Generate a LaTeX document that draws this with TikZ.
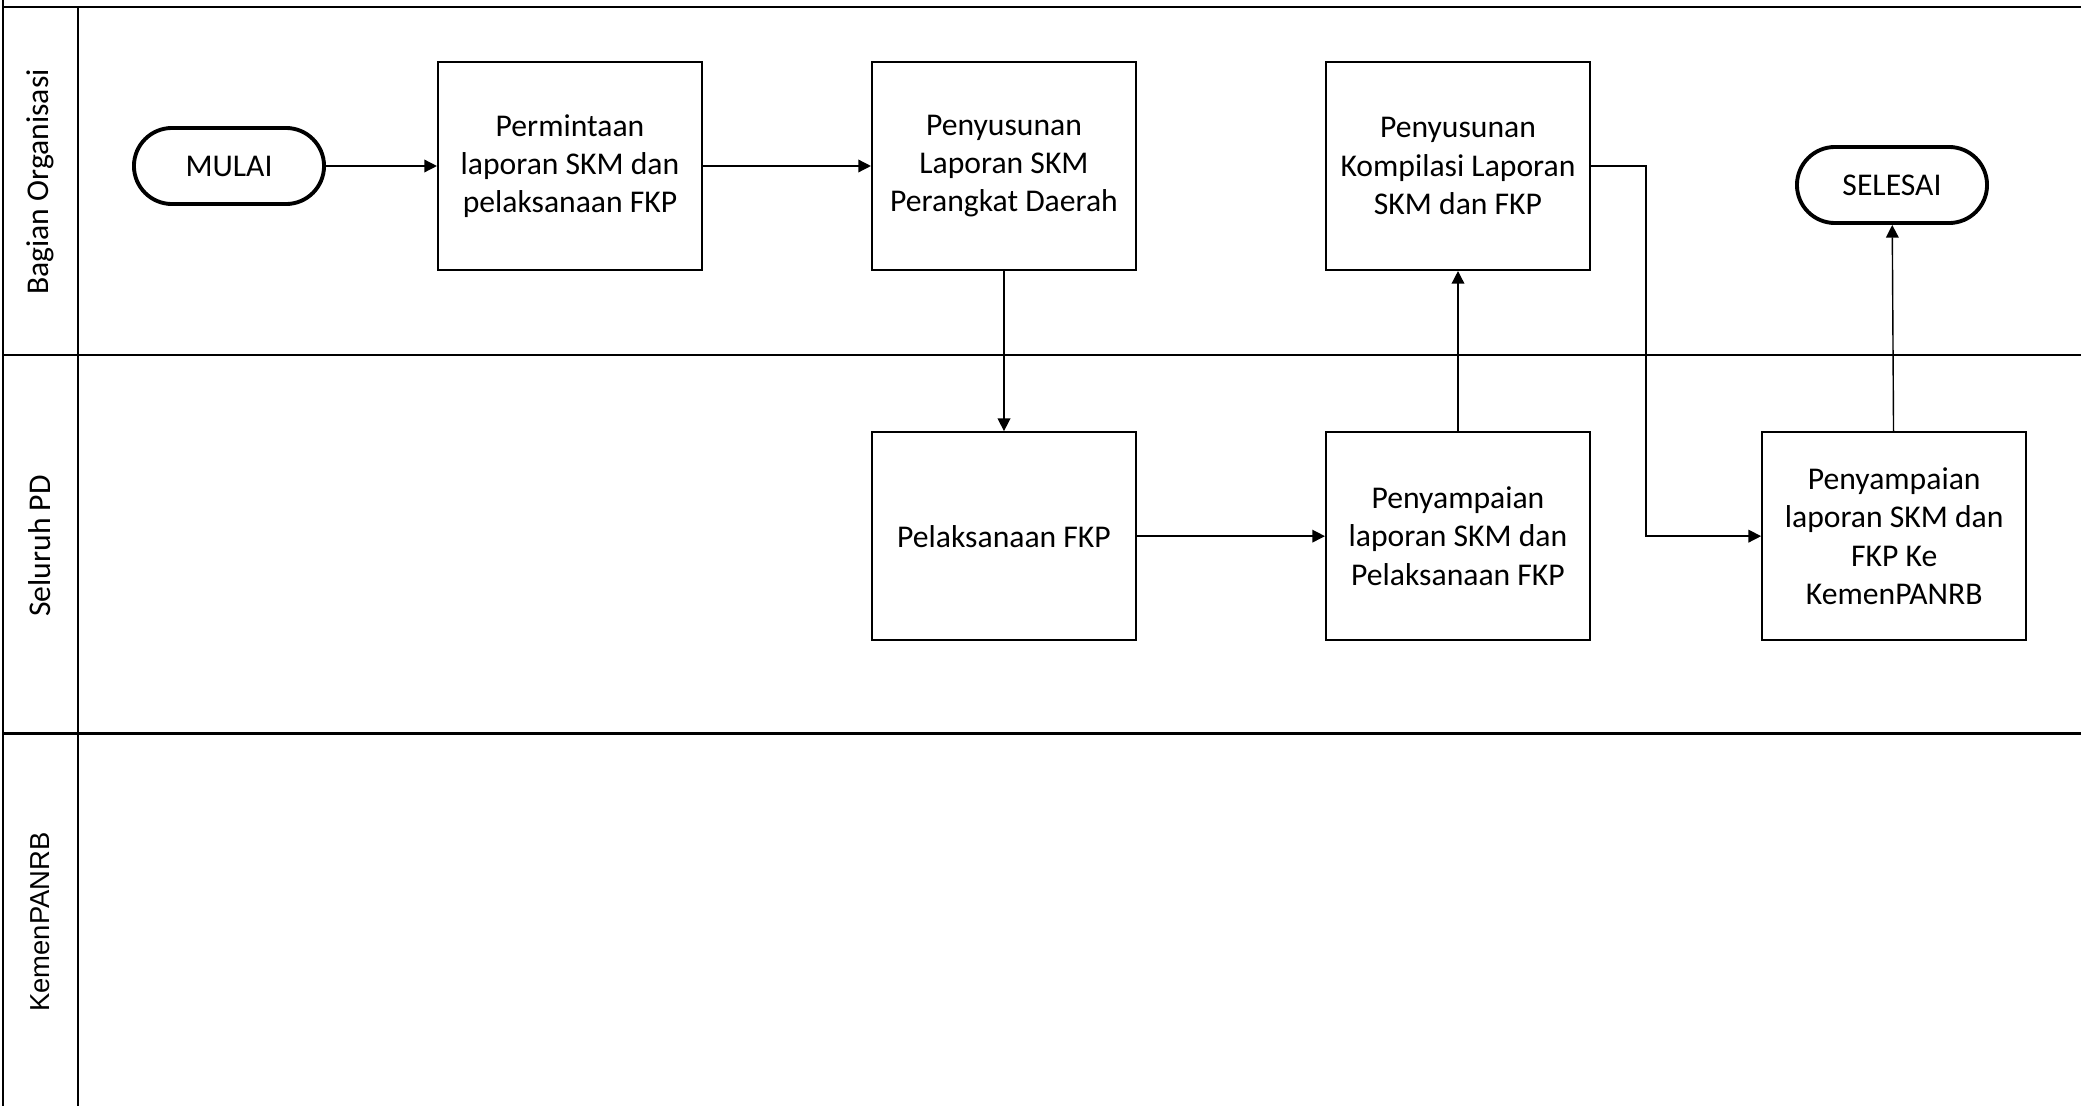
\documentclass[tikz,border=0pt]{standalone}
\usepackage{fontspec}
\setmainfont{Carlito}
\newfontfamily\arialfont{Liberation Sans}
\usetikzlibrary{positioning,arrows.meta}

\begin{document}
\begin{tikzpicture}[
  x=0.01cm, y=-0.01cm,
  >={Triangle[length=3.6pt,width=3.6pt]},
  every node/.style={font=\fontsize{9}{10.9}\selectfont, text=black},
  lane/.style={line width=0.85pt},
  lanelabel/.style={rotate=90, font=\fontsize{9}{10.9}\selectfont},
  procbox/.style={draw, line width=0.55pt, minimum width=2.64cm,
                  minimum height=2.08cm, align=center, inner sep=2pt},
  terminal/.style={draw, line width=1.1pt, rounded corners=3.8mm,
                   minimum width=1.9cm, minimum height=0.76cm},
  flow/.style={->, line width=0.4pt},
]
\useasboundingbox (0,0) rectangle (2081,1106);

% ── Swimlanes ──
\draw[lane] (3,0) -- (3,1106);
\draw[lane] (78,7) -- (78,1106);
\draw[lane] (3,7) -- (2081,7);
\draw[lane] (3,355) -- (2081,355);
\draw[lane] (3,733) -- (2081,733);

% ── Lane labels ──
\node[lanelabel] (lblOrg) at (40,182) {Bagian Organisasi};
\node[lanelabel] (lblPD) at (40,546) {Seluruh PD};
\node[lanelabel, font=\arialfont\fontsize{7.8}{10}\selectfont] (lblKemen) at (40,922) {KemenPANRB};

% ── Bagian Organisasi ──
\node[terminal] (mulai) at (229,166) {MULAI};
\node[procbox] (minta) at (570,166) {Permintaan\\laporan SKM dan\\pelaksanaan FKP};
\node[procbox] (susunPD) at (1004,166) {Penyusunan\\Laporan SKM\\Perangkat Daerah};
\node[procbox] (kompilasi) at (1458,166) {Penyusunan\\Kompilasi Laporan\\SKM dan FKP};
\node[terminal] (selesai) at (1892,185) {SELESAI};

% ── Seluruh PD ──
\node[procbox, below=1.6cm of susunPD] (fkp) {Pelaksanaan FKP};
\node[procbox, below=1.6cm of kompilasi] (kirimPD) {Penyampaian\\laporan SKM dan\\Pelaksanaan FKP};
\node[procbox, right=1.7cm of kirimPD] (kirimKemen) {Penyampaian\\laporan SKM dan\\FKP Ke\\KemenPANRB};

% ── Flow ──
\coordinate (belok) at (1646,166);
\draw[flow] (mulai) -- (minta);
\draw[flow] (minta) -- (susunPD);
\draw[flow] (susunPD) -- (fkp);
\draw[flow] (fkp) -- (kirimPD);
\draw[flow] (kirimPD) -- (kompilasi);
\draw[flow] (kompilasi.east) -- (belok) |- (kirimKemen.west);
\draw[flow] (kirimKemen) -- (selesai);

\end{tikzpicture}
\end{document}
